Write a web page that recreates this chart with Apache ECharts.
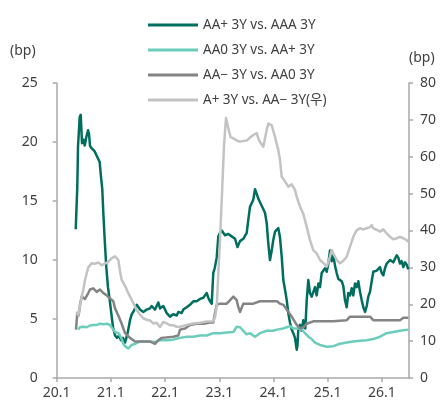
<!DOCTYPE html>
<html>
<head>
<meta charset="utf-8">
<script src="https://cdn.jsdelivr.net/npm/echarts@6/dist/echarts.min.js"></script>
<style>
  html, body { margin: 0; padding: 0; background: #fff; }
  #chart { width: 443px; height: 403px; }
</style>
</head>
<body>
<div id="chart"></div>
<script>
// Credit spread history, 3-year bonds, in basis points.
// Points are [year as decimal, spread].
const seriesNames = ['AA+ 3Y vs. AAA 3Y', 'AA0 3Y vs. AA+ 3Y', 'AA\u2212 3Y vs. AA0 3Y', 'A+ 3Y vs. AA\u2212 3Y(\uc6b0)'];

const aaPlusVsAaa = [
  [2020.351, 12.6], [2020.380, 16.2], [2020.393, 19.6], [2020.424, 22.1], [2020.443, 22.3],
  [2020.467, 19.9], [2020.491, 20.2], [2020.517, 19.7], [2020.546, 20.4], [2020.578, 21.0],
  [2020.596, 20.7], [2020.614, 19.7], [2020.638, 19.5], [2020.670, 19.6], [2020.701, 19.2],
  [2020.731, 19.2], [2020.762, 18.6], [2020.793, 18.3], [2020.812, 17.3], [2020.823, 16.8],
  [2020.841, 16.0], [2020.860, 14.0], [2020.886, 11.7], [2020.915, 9.4], [2020.946, 7.7],
  [2020.978, 6.6], [2021.007, 5.5], [2021.039, 4.3], [2021.076, 3.6], [2021.113, 3.4],
  [2021.149, 3.6], [2021.186, 3.2], [2021.223, 3.4], [2021.260, 3.0], [2021.292, 3.5],
  [2021.321, 4.1], [2021.352, 4.9], [2021.384, 5.4], [2021.413, 5.6], [2021.476, 6.2],
  [2021.537, 5.8], [2021.598, 5.6], [2021.661, 5.8], [2021.721, 5.9], [2021.753, 6.1],
  [2021.814, 5.8], [2021.875, 6.4], [2021.906, 5.9], [2021.967, 6.1], [2022.030, 5.5],
  [2022.090, 5.2], [2022.151, 5.4], [2022.214, 5.3], [2022.244, 5.6], [2022.306, 5.5],
  [2022.336, 5.8], [2022.399, 6.0], [2022.459, 6.2], [2022.491, 6.3], [2022.520, 6.5],
  [2022.583, 6.5], [2022.644, 6.7], [2022.705, 6.8], [2022.736, 7.0], [2022.768, 7.2],
  [2022.797, 6.8], [2022.828, 6.5], [2022.860, 6.3], [2022.889, 8.9], [2022.915, 9.3],
  [2022.952, 10.2], [2022.982, 12.0], [2023.013, 12.3], [2023.044, 12.5], [2023.105, 12.1],
  [2023.166, 12.2], [2023.229, 12.0], [2023.290, 11.8], [2023.336, 11.1], [2023.382, 11.6],
  [2023.443, 11.8], [2023.506, 12.3], [2023.535, 13.4], [2023.566, 14.5], [2023.627, 15.1],
  [2023.659, 16.0], [2023.690, 15.6], [2023.720, 15.2], [2023.751, 14.9], [2023.782, 14.6],
  [2023.812, 14.6], [2023.843, 14.0], [2023.875, 13.1], [2023.904, 11.4], [2023.935, 10.0],
  [2023.967, 10.8], [2023.996, 11.7], [2024.028, 12.4], [2024.059, 12.5], [2024.089, 12.7],
  [2024.120, 11.9], [2024.151, 10.3], [2024.181, 8.3], [2024.212, 7.5], [2024.244, 6.6],
  [2024.273, 5.5], [2024.304, 4.7], [2024.336, 4.1], [2024.365, 3.8], [2024.397, 3.4],
  [2024.428, 2.4], [2024.443, 2.8], [2024.458, 4.2], [2024.489, 4.5], [2024.520, 4.0],
  [2024.550, 4.9], [2024.587, 4.2], [2024.613, 6.6], [2024.642, 8.3], [2024.673, 7.2],
  [2024.705, 6.9], [2024.734, 6.9], [2024.766, 7.7], [2024.797, 7.0], [2024.827, 8.0],
  [2024.858, 7.7], [2024.889, 8.9], [2024.919, 8.9], [2024.950, 9.3], [2024.982, 9.0],
  [2025.011, 9.7], [2025.042, 10.8], [2025.074, 9.9], [2025.103, 10.4], [2025.135, 9.5],
  [2025.166, 8.9], [2025.196, 8.4], [2025.227, 8.4], [2025.258, 8.2], [2025.288, 7.8],
  [2025.319, 6.6], [2025.351, 6.0], [2025.380, 7.2], [2025.412, 7.0], [2025.443, 7.6],
  [2025.472, 7.0], [2025.504, 8.0], [2025.535, 7.7], [2025.565, 8.2], [2025.596, 7.3],
  [2025.627, 6.6], [2025.657, 6.0], [2025.689, 5.6], [2025.720, 6.1], [2025.749, 6.9],
  [2025.780, 7.3], [2025.812, 8.2], [2025.841, 9.0], [2025.904, 9.1], [2025.965, 9.4],
  [2025.996, 8.9], [2026.026, 8.7], [2026.057, 9.3], [2026.089, 9.7], [2026.150, 10.0],
  [2026.210, 9.8], [2026.273, 10.4], [2026.303, 10.2], [2026.334, 9.7], [2026.365, 9.9],
  [2026.395, 9.4], [2026.426, 9.8], [2026.458, 9.6], [2026.487, 9.2]
];

const aa0VsAaPlus = [
  [2020.399, 4.1], [2020.430, 4.3], [2020.491, 4.35], [2020.554, 4.3], [2020.614, 4.45],
  [2020.675, 4.5], [2020.738, 4.5], [2020.799, 4.6], [2020.860, 4.55], [2020.923, 4.6],
  [2020.983, 4.5], [2021.015, 4.5], [2021.044, 4.1], [2021.076, 3.9], [2021.137, 3.8],
  [2021.168, 3.6], [2021.199, 3.3], [2021.229, 2.9], [2021.260, 2.7], [2021.321, 2.5],
  [2021.352, 2.6], [2021.384, 2.8], [2021.445, 2.9], [2021.537, 3.1], [2021.661, 3.1],
  [2021.782, 3.05], [2021.845, 3.1], [2021.906, 3.2], [2022.030, 3.2], [2022.151, 3.25],
  [2022.275, 3.4], [2022.399, 3.5], [2022.520, 3.5], [2022.644, 3.6], [2022.768, 3.6],
  [2022.889, 3.8], [2023.013, 3.8], [2023.137, 3.85], [2023.260, 3.9], [2023.321, 4.35],
  [2023.382, 4.3], [2023.443, 4.0], [2023.506, 3.7], [2023.566, 3.8], [2023.659, 3.5],
  [2023.751, 3.8], [2023.875, 4.0], [2023.996, 4.0], [2024.059, 4.1], [2024.181, 4.2],
  [2024.244, 4.3], [2024.304, 4.4], [2024.365, 4.2], [2024.458, 4.2], [2024.520, 4.1],
  [2024.581, 3.8], [2024.642, 3.5], [2024.705, 3.3], [2024.766, 3.0], [2024.858, 2.8],
  [2024.982, 2.65], [2025.103, 2.7], [2025.227, 2.9], [2025.351, 3.0], [2025.472, 3.1],
  [2025.596, 3.15], [2025.720, 3.2], [2025.841, 3.3], [2025.965, 3.5], [2026.089, 3.8],
  [2026.210, 3.9], [2026.334, 4.0], [2026.487, 4.1]
];

const aaMinusVsAa0 = [
  [2020.356, 4.1], [2020.380, 5.5], [2020.406, 5.3], [2020.430, 6.2], [2020.461, 6.9],
  [2020.491, 7.0], [2020.522, 6.7], [2020.554, 6.6], [2020.583, 7.2], [2020.614, 7.5],
  [2020.675, 7.6], [2020.738, 7.3], [2020.799, 7.5], [2020.860, 7.2], [2020.923, 7.0],
  [2020.983, 6.75], [2021.044, 6.5], [2021.076, 5.9], [2021.137, 5.3], [2021.199, 4.6],
  [2021.260, 3.8], [2021.352, 3.4], [2021.445, 3.1], [2021.629, 3.1], [2021.721, 3.1],
  [2021.814, 2.9], [2021.875, 3.2], [2021.937, 3.4], [2022.151, 3.5], [2022.244, 3.6],
  [2022.275, 4.1], [2022.367, 4.2], [2022.459, 4.5], [2022.583, 4.6], [2022.705, 4.6],
  [2022.828, 4.7], [2022.889, 4.7], [2022.921, 5.5], [2022.952, 6.2], [2023.013, 6.3],
  [2023.137, 6.3], [2023.199, 6.6], [2023.260, 6.9], [2023.321, 6.6], [2023.351, 6.0],
  [2023.382, 5.6], [2023.443, 6.3], [2023.506, 6.3], [2023.627, 6.3], [2023.751, 6.5],
  [2023.935, 6.5], [2024.065, 6.5], [2024.120, 6.3], [2024.181, 6.2], [2024.244, 5.8],
  [2024.336, 5.2], [2024.428, 4.5], [2024.489, 4.2], [2024.550, 4.3], [2024.613, 4.6],
  [2024.734, 4.8], [2024.919, 4.8], [2025.103, 4.8], [2025.227, 4.85], [2025.351, 4.9],
  [2025.412, 5.2], [2025.596, 5.2], [2025.780, 5.2], [2025.841, 4.9], [2025.965, 4.9],
  [2026.150, 4.9], [2026.334, 4.9], [2026.395, 5.1], [2026.487, 5.1]
];

// plotted on the right-hand axis
const aPlusVsAaMinus = [
  [2020.369, 18.0], [2020.399, 17.0], [2020.430, 19.5], [2020.461, 22.0], [2020.491, 24.0],
  [2020.522, 26.5], [2020.554, 28.4], [2020.583, 30.0], [2020.646, 31.1], [2020.707, 31.0],
  [2020.768, 31.3], [2020.830, 30.6], [2020.891, 31.0], [2020.952, 31.5], [2021.015, 32.5],
  [2021.076, 33.0], [2021.137, 32.0], [2021.168, 29.0], [2021.199, 26.6], [2021.229, 26.5],
  [2021.260, 25.0], [2021.321, 23.0], [2021.384, 21.2], [2021.413, 20.3], [2021.476, 18.4],
  [2021.537, 17.2], [2021.598, 16.2], [2021.661, 15.8], [2021.721, 15.6], [2021.782, 14.8],
  [2021.845, 15.0], [2021.906, 13.8], [2021.967, 15.2], [2022.030, 14.8], [2022.090, 14.3],
  [2022.151, 14.3], [2022.214, 13.9], [2022.275, 13.9], [2022.399, 14.4], [2022.520, 14.8],
  [2022.644, 15.0], [2022.768, 15.3], [2022.889, 15.4], [2022.921, 16.5], [2022.952, 19.3],
  [2022.982, 28.4], [2023.013, 37.4], [2023.050, 50.0], [2023.087, 63.0], [2023.124, 70.5],
  [2023.151, 70.0], [2023.179, 67.0], [2023.207, 65.4], [2023.260, 65.0], [2023.321, 64.4],
  [2023.382, 64.1], [2023.443, 64.3], [2023.506, 64.4], [2023.566, 65.2], [2023.627, 65.9],
  [2023.690, 66.4], [2023.720, 65.0], [2023.751, 64.0], [2023.812, 62.7], [2023.843, 62.5],
  [2023.875, 67.3], [2023.904, 69.0], [2023.923, 69.5], [2023.967, 68.5], [2023.996, 67.0],
  [2024.028, 65.4], [2024.059, 63.5], [2024.089, 61.8], [2024.120, 59.1], [2024.151, 54.6],
  [2024.181, 54.0], [2024.212, 53.6], [2024.273, 51.9], [2024.336, 52.5], [2024.397, 51.0],
  [2024.428, 49.2], [2024.489, 46.5], [2024.550, 44.5], [2024.613, 41.0], [2024.673, 37.4],
  [2024.734, 34.7], [2024.797, 33.8], [2024.858, 32.0], [2024.919, 31.2], [2024.982, 30.2],
  [2025.011, 31.5], [2025.042, 32.9], [2025.074, 34.7], [2025.103, 33.8], [2025.166, 32.0],
  [2025.227, 31.1], [2025.288, 31.8], [2025.351, 32.9], [2025.412, 35.6], [2025.472, 38.3],
  [2025.535, 40.1], [2025.596, 40.6], [2025.657, 40.3], [2025.720, 40.6], [2025.780, 40.9],
  [2025.812, 41.5], [2025.841, 40.6], [2025.904, 40.2], [2025.965, 39.7], [2026.026, 40.3],
  [2026.089, 39.2], [2026.150, 38.3], [2026.210, 37.6], [2026.273, 37.9], [2026.334, 38.3],
  [2026.395, 37.9], [2026.458, 37.4], [2026.487, 36.9]
];

const seriesColors = ['#006e5e', '#6ccdbd', '#848484', '#c3c3c3'];
const fontFamily = '"Noto Sans", "Noto Sans CJK KR", sans-serif';
const axisColor = '#a9a9a9';
const textColor = '#404040';

const chart = echarts.init(document.getElementById('chart'), null, { renderer: 'canvas' });

function lineSeries(i, data, yAxisIndex) {
  return {
    name: seriesNames[i],
    type: 'line',
    data: data,
    yAxisIndex: yAxisIndex,
    symbol: 'none',
    smooth: false,
    animation: false,
    lineStyle: { color: seriesColors[i], width: 2.5, join: 'round' },
    itemStyle: { color: seriesColors[i] }
  };
}

chart.setOption({
  animation: false,
  backgroundColor: '#fff',
  grid: { left: 56.7, right: 34, top: 83, bottom: 25, containLabel: false },
  legend: {
    orient: 'vertical',
    left: 143,
    top: 12,
    icon: 'rect',
    itemWidth: 50,
    itemHeight: 3,
    itemGap: 9,
    textStyle: { fontFamily: fontFamily, fontSize: 13.5, color: textColor, lineHeight: 16, padding: [0, 0, 0, 0] },
    data: seriesNames
  },
  graphic: [
    { type: 'text', left: 10, top: 44, style: { text: '(bp)', font: '14px ' + fontFamily, fill: textColor } },
    { type: 'text', left: 409, top: 51, style: { text: '(bp)', font: '14px ' + fontFamily, fill: textColor } }
  ],
  xAxis: {
    type: 'value',
    min: 2020,
    max: 2026.5,
    interval: 1,
    splitLine: { show: false },
    axisLine: { lineStyle: { color: axisColor, width: 1.5 } },
    axisTick: { show: true, length: 4, lineStyle: { color: axisColor, width: 1.5 } },
    axisLabel: {
      margin: 8,
      showMaxLabel: false,
      fontFamily: fontFamily,
      fontSize: 14,
      color: textColor,
      formatter: v => Number.isInteger(v) ? String(v).slice(2) + '.1' : ''
    }
  },
  yAxis: [
    {
      type: 'value',
      min: 0, max: 25, interval: 5,
      position: 'left',
      splitLine: { show: false },
      axisLine: { show: true, lineStyle: { color: axisColor, width: 1.5 } },
      axisTick: { show: true, length: 4, lineStyle: { color: axisColor, width: 1.5 } },
      axisLabel: { margin: 19, fontFamily: fontFamily, fontSize: 14, color: textColor }
    },
    {
      type: 'value',
      min: 0, max: 80, interval: 10,
      position: 'right',
      splitLine: { show: false },
      axisLine: { show: true, lineStyle: { color: axisColor, width: 1.5 } },
      axisTick: { show: true, length: 4, lineStyle: { color: axisColor, width: 1.5 } },
      axisLabel: { margin: 11, fontFamily: fontFamily, fontSize: 14, color: textColor }
    }
  ],
  series: [
    lineSeries(0, aaPlusVsAaa, 0),
    lineSeries(1, aa0VsAaPlus, 0),
    lineSeries(2, aaMinusVsAa0, 0),
    lineSeries(3, aPlusVsAaMinus, 1)
  ]
});
</script>
</body>
</html>
